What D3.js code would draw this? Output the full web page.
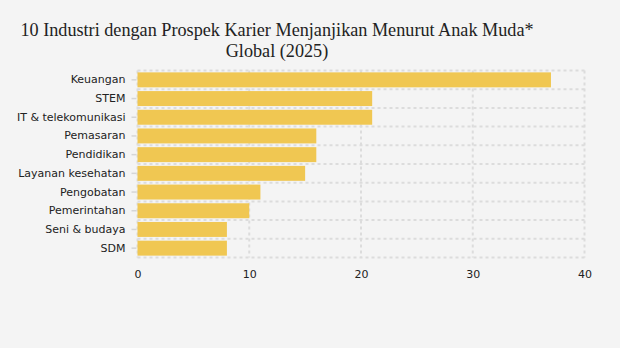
<!DOCTYPE html>
<html>
<head>
<meta charset="utf-8">
<script src="https://cdn.jsdelivr.net/npm/d3@7"></script>
<style>
  html, body { margin: 0; padding: 0; background: #f4f4f4; }
  svg { display: block; }
</style>
</head>
<body>
<div id="chart"></div>
<script>
// Industries ranked by share of young people citing promising career prospects
const categories = ["Keuangan", "STEM", "IT & telekomunikasi", "Pemasaran", "Pendidikan",
  "Layanan kesehatan", "Pengobatan", "Pemerintahan", "Seni & budaya", "SDM"];
const values = [37, 21, 21, 16, 16, 15, 11, 10, 8, 8];
const xTicks = [0, 10, 20, 30, 40];
const titleLines = ["10 Industri dengan Prospek Karier Menjanjikan Menurut Anak Muda*", "Global (2025)"];

const W = 620, H = 348;
const margin = { top: 70.5, right: 35.5, bottom: 90.5, left: 137.5 };

const svg = d3.select("#chart").append("svg")
  .attr("width", W).attr("height", H);

svg.append("rect").attr("width", W).attr("height", H).attr("fill", "#f4f4f4");

const x = d3.scaleLinear().domain([0, 40]).range([margin.left, W - margin.right]);
const y = d3.scaleBand().domain(categories).range([margin.top, H - margin.bottom]).paddingInner(0.2).paddingOuter(0.1);

// Title
svg.append("text")
  .attr("x", 277).attr("y", 36)
  .attr("text-anchor", "middle")
  .attr("font-family", "'Liberation Serif', 'Times New Roman', serif")
  .attr("font-size", 18.2)
  .attr("fill", "#222")
  .selectAll("tspan").data(titleLines).join("tspan")
  .attr("x", 277).attr("dy", (d, i) => i === 0 ? 0 : 21)
  .text(d => d);

const gridColor = "#dcdcdc";
const dash = "3,3";

// Horizontal gridlines at category boundaries
const bounds = d3.range(categories.length + 1).map(i => margin.top + i * (H - margin.bottom - margin.top) / categories.length);
svg.append("g").selectAll("line").data(bounds).join("line")
  .attr("x1", x(0)).attr("x2", x(40))
  .attr("y1", d => d).attr("y2", d => d)
  .attr("stroke", gridColor).attr("stroke-width", 2).attr("stroke-dasharray", dash);

// Vertical gridlines
svg.append("g").selectAll("line").data(xTicks).join("line")
  .attr("x1", d => x(d)).attr("x2", d => x(d))
  .attr("y1", margin.top).attr("y2", H - margin.bottom)
  .attr("stroke", gridColor).attr("stroke-width", 2).attr("stroke-dasharray", dash);

// Bars
svg.append("g").selectAll("rect").data(categories).join("rect")
  .attr("x", x(0))
  .attr("y", d => y(d))
  .attr("width", (d, i) => x(values[i]) - x(0))
  .attr("height", y.bandwidth())
  .attr("fill", "#f0c752");

// Y axis
const yAxis = svg.append("g")
  .attr("transform", `translate(${margin.left - 1},0)`)
  .call(d3.axisLeft(y).tickSize(5).tickPadding(6));
yAxis.select(".domain").remove();
yAxis.selectAll(".tick line").attr("stroke", "#d6d6d6").attr("stroke-width", 1.5);
yAxis.selectAll(".tick text")
  .attr("font-family", "'DejaVu Sans', Verdana, sans-serif")
  .attr("font-size", 11).attr("fill", "#222");

// X axis
const xAxis = svg.append("g")
  .attr("transform", `translate(0,${H - margin.bottom})`)
  .call(d3.axisBottom(x).tickValues(xTicks).tickSize(0).tickPadding(13));
xAxis.select(".domain").remove();
xAxis.selectAll(".tick text")
  .attr("font-family", "'DejaVu Sans', Verdana, sans-serif")
  .attr("font-size", 11).attr("fill", "#222");
</script>
</body>
</html>
